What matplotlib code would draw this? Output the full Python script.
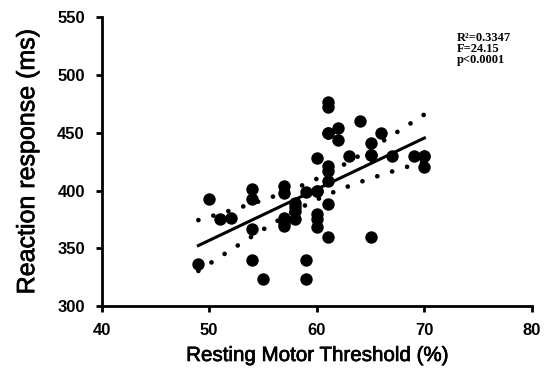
import numpy as np
import matplotlib
matplotlib.use("Agg")
import matplotlib.pyplot as plt
import matplotlib.patheffects as pe

# Resting motor threshold (%) vs reaction response (ms)
rmt = [49, 50, 51, 52, 54, 54, 54, 54, 55, 57, 57, 57, 57, 57, 58, 58, 58, 58,
       59, 59, 59, 60, 60, 60, 60, 60, 60, 61, 61, 61, 61, 61, 61, 61, 61,
       62, 62, 63, 64, 65, 65, 65, 65, 66, 67, 69, 70, 70, 70, 61]
rt = [336, 393, 375, 376, 401, 393, 367, 340, 323, 404, 398, 376, 369, 372,
      389, 382, 375, 386, 399, 340, 323, 400, 428, 380, 375, 368, 400,
      477, 472, 450, 421, 408, 388, 360, 450, 454, 444, 430, 460, 441, 431,
      360, 431, 450, 430, 430, 430, 420, 430, 417]

stats_text = "R²=0.3347\nF=24.15\np<0.0001"
t_crit = 2.0106  # t(0.975, df=48)

x = np.array(rmt, float)
y = np.array(rt, float)
n = len(x)
slope, icpt = np.polyfit(x, y, 1)
resid = y - (icpt + slope * x)
s = np.sqrt(np.sum(resid**2) / (n - 2))
xs = np.linspace(x.min(), x.max(), 200)
fit = icpt + slope * xs
half = t_crit * s * np.sqrt(1 / n + (xs - x.mean())**2 / np.sum((x - x.mean())**2))

fig = plt.figure(figsize=(5.44, 3.71), dpi=100)
ax = fig.add_axes([0.1866, 0.1752, 0.7914, 0.7782])

ax.scatter(x, y, s=80, color='black', zorder=3, linewidths=0)
ax.plot(xs, fit, color='black', lw=2.2, zorder=2)
for band in (fit + half, fit - half):
    ax.plot(xs, band, color='black', lw=3.4, linestyle=(0, (0.01, 3.3)),
            dash_capstyle='round', zorder=2)

ax.set_xlim(40, 80)
ax.set_ylim(300, 550)
ax.set_xticks([40, 50, 60, 70, 80])
ax.set_yticks([300, 350, 400, 450, 500, 550])
for side in ('top', 'right'):
    ax.spines[side].set_visible(False)
for side in ('left', 'bottom'):
    ax.spines[side].set_linewidth(2)
ax.tick_params(width=2, length=4, labelsize=12, pad=8)
for lab in ax.get_xticklabels() + ax.get_yticklabels():
    lab.set_family('Liberation Sans')
    lab.set_fontweight('bold')

thick = [pe.withStroke(linewidth=0.5, foreground='black')]
ax.set_xlabel('Resting Motor Threshold (%)', fontsize=14.8,
              family='Liberation Sans', labelpad=6, path_effects=thick)
ax.set_ylabel('Reaction response (ms)', fontsize=18,
              family='Liberation Sans', labelpad=13, path_effects=thick)

fig.text(0.840, 0.913, stats_text, fontsize=9, fontweight='bold',
         family='Liberation Serif', va='top', ha='left', linespacing=0.85)

fig.savefig('out.png', dpi=100, facecolor='white')
